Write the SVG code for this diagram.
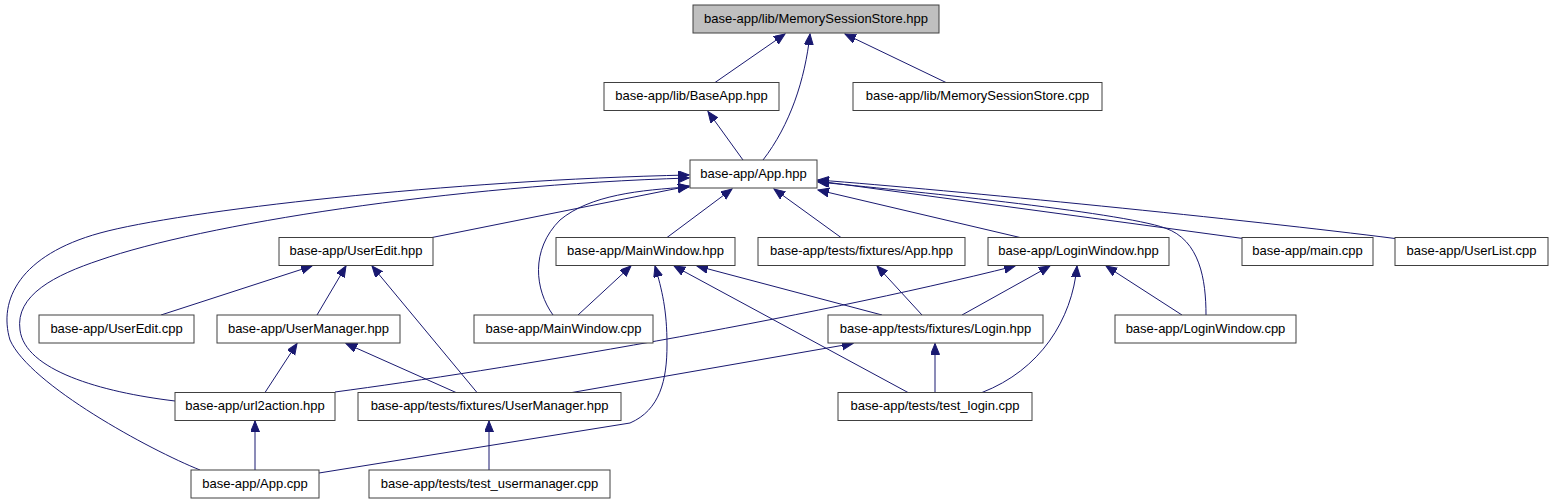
<svg xmlns="http://www.w3.org/2000/svg" width="1557" height="504" viewBox="0 0 1557 504">
<defs>
<style>
.n rect{fill:#ffffff;stroke:#404040;stroke-width:1}
.n.root rect{fill:#bfbfbf}
.n text{font-family:"Liberation Sans",Arial,sans-serif;font-size:13px;fill:#000000;text-anchor:middle}
.e path{fill:none;stroke:#191970;stroke-width:1;marker-end:url(#ah)}
</style>
<marker id="ah" markerUnits="userSpaceOnUse" markerWidth="12" markerHeight="10" refX="11" refY="4.5" orient="auto">
<path d="M0,0 L11,4.5 L0,9 z" fill="#191970" stroke="#191970" stroke-width="1"/>
</marker>
</defs>
<rect width="1557" height="504" fill="#ffffff"/>
<g id="edges" class="e">
<path d="M715,82.5 L785,34"/>
<path d="M763,160 C790,125 805,80 810,34"/>
<path d="M946,82.5 L845,34"/>
<path d="M743,160 L708,111.5"/>
<path d="M432,237.5 L689,186"/>
<path d="M200,470 C150,450 30,385 10,340 C-2,300 20,255 100,233 C180,211 450,180 689,175"/>
<path d="M175,401 C100,392 25,370 20,330 C15,295 55,275 100,260 C200,225 450,185 689,178"/>
<path d="M553,315 C535,290 530,250 560,220 C590,195 640,190 689,187"/>
<path d="M667,237.5 L732,189"/>
<path d="M841,237.5 L774,189"/>
<path d="M1020,237.5 L818,190"/>
<path d="M1243,238.5 L818,181"/>
<path d="M1395,238.5 C1250,220 950,190 818,180"/>
<path d="M1206,315 C1206,280 1200,240 1165,228 C1120,212 900,190 818,182"/>
<path d="M161,315 L312,266"/>
<path d="M317,315 L346,266"/>
<path d="M477,392.5 L372,266"/>
<path d="M265,392.5 L297,343.5"/>
<path d="M456,392.5 L346,343.5"/>
<path d="M335,392 C500,370 800,320 1015,266"/>
<path d="M578,315 L631,266"/>
<path d="M319,473 L630,423 C660,410 667,380 667,345 C667,310 662,290 655,266"/>
<path d="M882,315 L697,266"/>
<path d="M908,392.5 L674,266"/>
<path d="M922,315 L877,266"/>
<path d="M962,315 L1050,266"/>
<path d="M982,392.5 C1040,370 1072,320 1077,266"/>
<path d="M1182,315 L1106,266"/>
<path d="M572,392.5 L853,343.5"/>
<path d="M935,392.5 L935,343.5"/>
<path d="M489,470 L489,421"/>
<path d="M255,470 L255,421"/>
</g>
<g id="n0" class="n root"><rect x="693" y="5" width="246" height="28"/><text x="816" y="22.5">base-app/lib/MemorySessionStore.hpp</text></g>
<g id="n1" class="n"><rect x="604" y="82.5" width="175" height="28"/><text x="691.5" y="100">base-app/lib/BaseApp.hpp</text></g>
<g id="n2" class="n"><rect x="853" y="82.5" width="249" height="28"/><text x="977.5" y="100">base-app/lib/MemorySessionStore.cpp</text></g>
<g id="n3" class="n"><rect x="690" y="160" width="127" height="28"/><text x="753.5" y="177.5">base-app/App.hpp</text></g>
<g id="n4" class="n"><rect x="279" y="237.5" width="154" height="28"/><text x="356" y="255">base-app/UserEdit.hpp</text></g>
<g id="n5" class="n"><rect x="556" y="237.5" width="179" height="28"/><text x="645.5" y="255">base-app/MainWindow.hpp</text></g>
<g id="n6" class="n"><rect x="758" y="237.5" width="207" height="28"/><text x="861.5" y="255">base-app/tests/fixtures/App.hpp</text></g>
<g id="n7" class="n"><rect x="988" y="237.5" width="181" height="28"/><text x="1078.5" y="255">base-app/LoginWindow.hpp</text></g>
<g id="n8" class="n"><rect x="1242" y="237.5" width="131" height="28"/><text x="1307.5" y="255">base-app/main.cpp</text></g>
<g id="n9" class="n"><rect x="1395" y="237.5" width="153" height="28"/><text x="1471.5" y="255">base-app/UserList.cpp</text></g>
<g id="n10" class="n"><rect x="39" y="315" width="155" height="28"/><text x="116.5" y="332.5">base-app/UserEdit.cpp</text></g>
<g id="n11" class="n"><rect x="217" y="315" width="183" height="28"/><text x="308.5" y="332.5">base-app/UserManager.hpp</text></g>
<g id="n12" class="n"><rect x="474" y="315" width="179" height="28"/><text x="563.5" y="332.5">base-app/MainWindow.cpp</text></g>
<g id="n13" class="n"><rect x="828" y="315" width="215" height="28"/><text x="935.5" y="332.5">base-app/tests/fixtures/Login.hpp</text></g>
<g id="n14" class="n"><rect x="1115" y="315" width="181" height="28"/><text x="1205.5" y="332.5">base-app/LoginWindow.cpp</text></g>
<g id="n15" class="n"><rect x="175" y="392.5" width="160" height="28"/><text x="255" y="410">base-app/url2action.hpp</text></g>
<g id="n16" class="n"><rect x="358" y="392.5" width="263" height="28"/><text x="489.5" y="410">base-app/tests/fixtures/UserManager.hpp</text></g>
<g id="n17" class="n"><rect x="838" y="392.5" width="194" height="28"/><text x="935" y="410">base-app/tests/test_login.cpp</text></g>
<g id="n18" class="n"><rect x="191" y="470" width="128" height="28"/><text x="255" y="487.5">base-app/App.cpp</text></g>
<g id="n19" class="n"><rect x="369" y="470" width="241" height="28"/><text x="489.5" y="487.5">base-app/tests/test_usermanager.cpp</text></g>
</svg>
